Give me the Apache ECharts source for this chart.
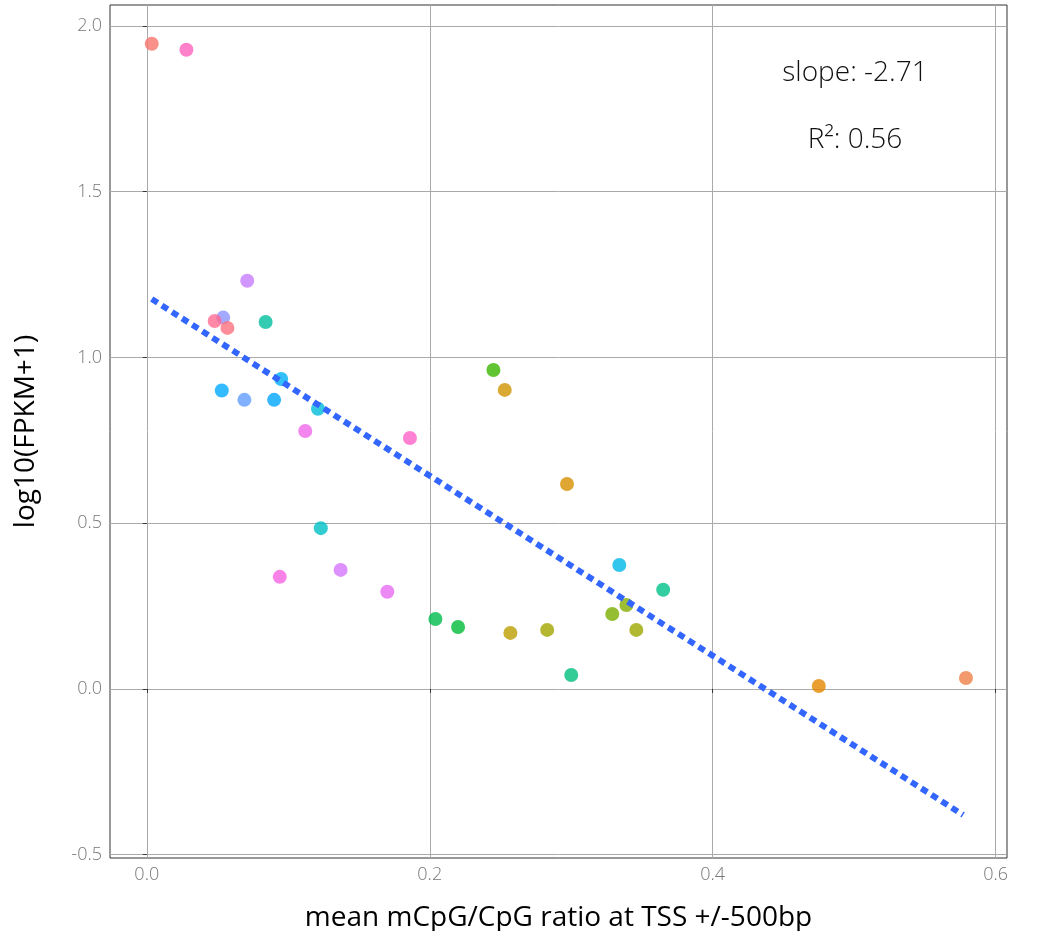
<!DOCTYPE html>
<html><head><meta charset="utf-8">
<script src="https://cdn.jsdelivr.net/npm/echarts@6/dist/echarts.min.js"></script>
<style>html,body{margin:0;background:#fff}#c{width:1037px;height:931px}</style>
</head><body><div id="c"></div>
<script>
const xs=[0.0035,0.028,0.071,0.054,0.048,0.057,0.084,0.053,0.069,0.095,0.090,0.121,0.112,0.186,0.123,0.094,0.137,0.170,0.245,0.253,0.297,0.334,0.365,0.204,0.220,0.257,0.283,0.300,0.329,0.339,0.346,0.475,0.579];
const ys=[1.946,1.928,1.231,1.12,1.11,1.089,1.107,0.90,0.872,0.935,0.872,0.845,0.778,0.757,0.485,0.338,0.359,0.293,0.962,0.902,0.618,0.374,0.299,0.211,0.187,0.169,0.178,0.042,0.226,0.253,0.178,0.009,0.033];
const colors=['#F8766D','#FF62BC','#C77CFF','#8B93FF','#FF6C91','#FC717F','#00BFA0','#00A9FF','#619CFF','#00B0F6','#00A5FF','#00BCD8','#F066EA','#FF61C9','#00BFC4','#F564E3','#D575FE','#E76BF3','#39B600','#CF9400','#D89000','#00B8E7','#00C08B','#00BB4E','#00BA38','#BB9D00','#A3A500','#00BF7D','#7CAE00','#85AD00','#9DA700','#E58700','#EF7F49'];
const fitX=[0.0035,0.577], fitY=[1.176,-0.38];
const xTicks=[0,0.2,0.4,0.6], yTicks=[-0.5,0,0.5,1,1.5,2];
const pts=xs.map((x,i)=>({value:[x,ys[i]],itemStyle:{color:colors[i]}}));
const f='Open Sans';
const ax={axisLine:{show:false},axisTick:{show:true,length:4,lineStyle:{color:'#333'}},splitLine:{lineStyle:{color:'#aaa'}},axisLabel:{color:'#777',fontSize:18,fontFamily:f,fontWeight:300}};
echarts.init(document.getElementById('c')).setOption({
 animation:false,
 grid:{left:110,right:30,top:5,bottom:73,outerBoundsMode:'none',containLabel:false,show:true,borderColor:'#333',borderWidth:1},
 xAxis:Object.assign({type:'value',min:-0.026,max:0.608,interval:0.2,name:'mean mCpG/CpG ratio at TSS +/-500bp',nameLocation:'middle',nameGap:46,nameTextStyle:{fontSize:28,fontFamily:f,color:'#000'}},ax,{axisLabel:Object.assign({},ax.axisLabel,{customValues:xTicks,formatter:v=>v.toFixed(1)}),axisTick:Object.assign({},ax.axisTick,{customValues:xTicks}),splitLine:Object.assign({},ax.splitLine,{customValues:xTicks})}),
 yAxis:Object.assign({type:'value',min:-0.51,max:2.063,name:'log10(FPKM+1)',nameLocation:'middle',nameGap:70,nameTextStyle:{fontSize:28,fontFamily:f,color:'#000'}},ax,{axisLabel:Object.assign({},ax.axisLabel,{customValues:yTicks,formatter:v=>v.toFixed(1)}),axisTick:Object.assign({},ax.axisTick,{customValues:yTicks}),splitLine:Object.assign({},ax.splitLine,{customValues:yTicks})}),
 series:[
  {type:'line',data:[[fitX[0],fitY[0]],[fitX[1],fitY[1]]],showSymbol:false,lineStyle:{color:'#3366FF',width:6,type:[7,5]},z:3},
  {type:'scatter',data:pts,symbolSize:14,z:2}
 ],
 graphic:[
  {type:'text',style:{text:'slope: -2.71',x:855,y:73,fill:'#111',font:'300 28px "Open Sans"',align:'center',verticalAlign:'middle'}},
  {type:'text',style:{text:'R²: 0.56',x:855,y:140,fill:'#111',font:'300 28px "Open Sans"',align:'center',verticalAlign:'middle'}}
 ]
});
</script></body></html>
